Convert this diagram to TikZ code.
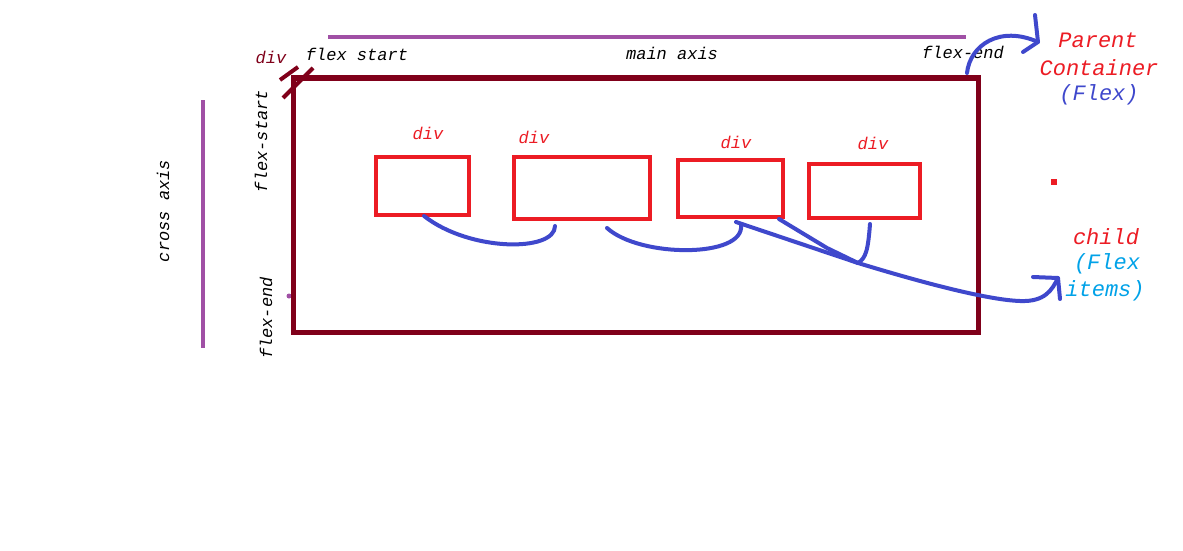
\documentclass[tikz,border=0pt]{standalone}
\usepackage{fontspec}
\setmonofont{Liberation Mono}
\begin{document}
\begin{tikzpicture}[x=1pt,y=-1pt,
  lbl/.style={font=\ttfamily\itshape\fontsize{17}{18}\selectfont, inner sep=0pt},
  big/.style={font=\ttfamily\itshape\fontsize{22}{24}\selectfont, inner sep=0pt},
  axisline/.style={draw=axiscol, line width=4pt},
  childbox/.style={draw=childred, line width=4pt, inner sep=0pt},
  blue/.style={draw=arrowblue, line width=4pt, line cap=round, line join=round},
]
\definecolor{axiscol}{RGB}{160,80,165}
\definecolor{parentred}{RGB}{128,0,26}
\definecolor{childred}{RGB}{236,28,36}
\definecolor{arrowblue}{RGB}{63,72,204}
\definecolor{cyanish}{RGB}{0,162,232}
\useasboundingbox (0,0) rectangle (1183,551);
\fill[white] (0,0) rectangle (1183,551);

% axes
\coordinate (ma1) at (328,37); \coordinate (ma2) at (966,37);
\draw[axisline] (ma1) -- (ma2);
\coordinate (ca1) at (203,100); \coordinate (ca2) at (203,348);
\draw[axisline] (ca1) -- (ca2);
\fill[axiscol] (289,296) circle (2.5);

\node[lbl] (mainaxis) at (672,53) {main axis};
\node[lbl] (fstart) at (357,54) {flex start};
\node[lbl, text=parentred] (pdiv) at (271,57) {div};
\node[lbl] (fend) at (963,52) {flex-end};
\node[lbl, rotate=90] (crossaxis) at (163,211) {cross axis};
\node[lbl, rotate=90] (cstart) at (261,141) {flex-start};
\node[lbl, rotate=90] (cend) at (266,318) {flex-end};

% parent container
\node[draw=parentred, line width=5pt, minimum width=685pt, minimum height=254pt, inner sep=0pt] (parent) at (635.5,205) {};
\coordinate (h1a) at (280,80); \coordinate (h1b) at (298,67);
\coordinate (h2a) at (283,98); \coordinate (h2b) at (313,68);
\draw[parentred, line width=4pt] (h1a) -- (h1b);
\draw[parentred, line width=4pt] (h2a) -- (h2b);

% children
\node[childbox, minimum width=93pt, minimum height=58pt] (c1) at (422.5,186) {};
\node[childbox, minimum width=136pt, minimum height=62pt] (c2) at (582,188) {};
\node[childbox, minimum width=105pt, minimum height=57pt] (c3) at (730.5,188.5) {};
\node[childbox, minimum width=111pt, minimum height=54pt] (c4) at (864.5,191) {};
\node[lbl, text=childred] (d1) at (428,133) {div};
\node[lbl, text=childred] (d2) at (534,137) {div};
\node[lbl, text=childred] (d3) at (736,142) {div};
\node[lbl, text=childred] (d4) at (873,143) {div};

\fill[childred] (1050.5,178.5) rectangle (1056.5,184.5);

% labels right
\node[big, text=childred] (parentT) at (1098,40) {Parent};
\node[big, text=childred] (containerT) at (1099,68) {Container};
\node[big, text=arrowblue] (flexT) at (1099,95) {(Flex)};
\node[big, text=childred] (childT) at (1106,237) {child};
\node[big, text=cyanish] (flexT2) at (1107,264) {(Flex};
\node[big, text=cyanish] (itemsT) at (1105,291) {items)};

% blue connectors
\coordinate (b1s) at (424,216); \coordinate (b1e) at (555,226);
\draw[blue] (b1s) .. controls (470,252) and (555,252) .. (b1e);
\coordinate (b2s) at (607,228); \coordinate (b2e) at (741,225);
\draw[blue] (b2s) .. controls (640,258) and (745,258) .. (b2e);
\coordinate (b3s) at (736,222); \coordinate (b3m) at (858,263);
\coordinate (b3e) at (1058,278);
\draw[blue] (b3s) -- (b3m) .. controls (930,285) and (990,300) .. (1020,301) .. controls (1045,302) and (1052,290) .. (b3e);
\draw[blue] (1033,277) -- (b3e) -- (1060,299);
\coordinate (b4s) at (779,219);
\draw[blue] (b4s) -- (827,248) -- (b3m);
\coordinate (b5s) at (870,224);
\draw[blue] (b5s) .. controls (868,250) and (866,258) .. (b3m);

\coordinate (t1s) at (967,73); \coordinate (t1e) at (1038,42);
\draw[blue] (t1s) .. controls (970,45) and (1000,25) .. (t1e);
\draw[blue] (1023,52) -- (t1e) -- (1035,15);
\end{tikzpicture}
\end{document}
